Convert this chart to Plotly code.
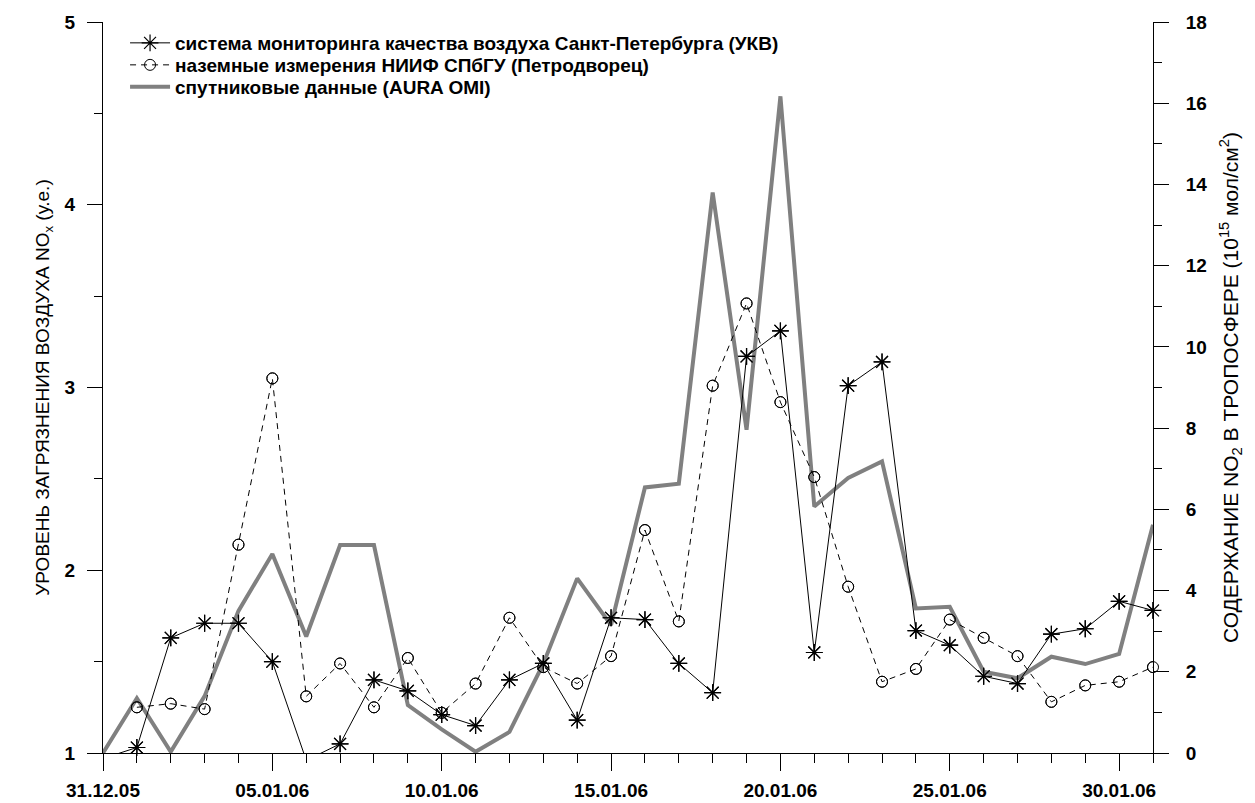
import plotly.graph_objects as go

dates = ["2005-12-31", "2006-01-01", "2006-01-02", "2006-01-03", "2006-01-04", "2006-01-05",
         "2006-01-06", "2006-01-07", "2006-01-08", "2006-01-09", "2006-01-10", "2006-01-11",
         "2006-01-12", "2006-01-13", "2006-01-14", "2006-01-15", "2006-01-16", "2006-01-17",
         "2006-01-18", "2006-01-19", "2006-01-20", "2006-01-21", "2006-01-22", "2006-01-23",
         "2006-01-24", "2006-01-25", "2006-01-26", "2006-01-27", "2006-01-28", "2006-01-29",
         "2006-01-30", "2006-01-31"]

ukv = [0.97, 1.03, 1.63, 1.71, 1.71, 1.50, 0.96, 1.05, 1.40, 1.34, 1.21, 1.15, 1.40, 1.49,
       1.18, 1.74, 1.73, 1.49, 1.33, 3.17, 3.31, 1.55, 3.01, 3.14, 1.67, 1.59, 1.42, 1.38,
       1.65, 1.68, 1.83, 1.78]

niif = [None, 1.25, 1.27, 1.24, 2.14, 3.05, 1.31, 1.49, 1.25, 1.52, 1.22, 1.38, 1.74, 1.47,
        1.38, 1.53, 2.22, 1.72, 3.01, 3.46, 2.92, 2.51, 1.91, 1.39, 1.46, 1.73, 1.63, 1.53,
        1.28, 1.37, 1.39, 1.47]

omi = [0.0, 1.35, 0.03, 1.40, 3.50, 4.90, 2.87, 5.12, 5.12, 1.18, 0.58, 0.03, 0.52, 2.20,
       4.30, 3.15, 6.54, 6.63, 13.80, 7.96, 16.17, 6.07, 6.77, 7.18, 3.56, 3.60, 2.00, 1.84,
       2.37, 2.19, 2.44, 5.62]

name_ukv = "<b>система мониторинга качества воздуха Санкт-Петербурга (УКВ)</b>"
name_niif = "<b>наземные измерения НИИФ СПбГУ (Петродворец)</b>"
name_omi = "<b>спутниковые данные (AURA OMI)</b>"

left_title = "УРОВЕНЬ ЗАГРЯЗНЕНИЯ ВОЗДУХА NO<sub>x</sub> (у.е.)"
right_title = "СОДЕРЖАНИЕ NO<sub>2</sub> В ТРОПОСФЕРЕ (10<sup>15</sup> мол/см<sup>2</sup>)"

FONT = "Liberation Sans, Arial, sans-serif"

fig = go.Figure()

# satellite (right axis, primary y)
fig.add_trace(go.Scatter(
    x=dates, y=omi, name=name_omi, mode="lines", yaxis="y", legend="legend3",
    line=dict(color="#808080", width=4)))

# UKV stars (left axis)
fig.add_trace(go.Scatter(
    x=dates, y=ukv, name=name_ukv, mode="lines+markers", yaxis="y2", legend="legend",
    line=dict(color="black", width=1),
    marker=dict(symbol="asterisk-open", size=14, color="black", line=dict(width=1.2, color="black"))))

# NIIF circles (left axis)
fig.add_trace(go.Scatter(
    x=dates, y=niif, name=name_niif, mode="lines+markers", yaxis="y2", legend="legend2",
    line=dict(color="black", width=1, dash="6px,5px"),
    marker=dict(symbol="circle-open", size=11, color="black", line=dict(width=1, color="black"))))

# unclipped markers for in-range points (so edge markers show fully)
for vals, sym, sz in ((ukv, "asterisk-open", 14), (niif, "circle-open", 11)):
    xs = [d for d, v in zip(dates, vals) if v is not None and v >= 1]
    ys = [v for v in vals if v is not None and v >= 1]
    fig.add_trace(go.Scatter(
        x=xs, y=ys, mode="markers", yaxis="y2", showlegend=False, cliponaxis=False,
        hoverinfo="skip",
        marker=dict(symbol=sym, size=sz, color="black",
                    line=dict(width=1.2 if sym.startswith("ast") else 1, color="black"))))

tickfont = dict(family=FONT, size=19, color="black", weight="bold")
legfont = dict(family=FONT, size=19, color="black")


def leg(ypix):
    return dict(x=0.021, y=(753 - ypix) / 731, xanchor="left", yanchor="middle",
                bgcolor="rgba(0,0,0,0)", font=legfont, itemwidth=40)


fig.update_layout(
    width=1255, height=803,
    margin=dict(l=103, r=102, t=22, b=50, autoexpand=False),
    paper_bgcolor="white", plot_bgcolor="white",
    font=dict(family=FONT, size=16, color="black"),
    showlegend=True,
    legend=leg(43),
    legend2=leg(65),
    legend3=leg(87),
    xaxis=dict(
        type="date", range=["2005-12-31", "2006-01-31"], automargin=False,
        tick0="2005-12-31", dtick=5 * 86400000, tickformat="%d.%m.%y",
        ticks="outside", ticklen=17, tickwidth=1, tickcolor="black",
        showline=True, linecolor="black", linewidth=1,
        showgrid=False, zeroline=False, tickfont=tickfont,
        ticklabelstandoff=3,
        minor=dict(dtick=86400000, tick0="2005-12-31", ticks="outside", ticklen=9,
                   tickwidth=1, tickcolor="black", showgrid=False),
    ),
    yaxis=dict(
        side="right", range=[0, 18], dtick=2, tick0=0, automargin=False,
        ticks="outside", ticklen=15, tickwidth=1, tickcolor="black",
        showline=True, linecolor="black", linewidth=1,
        showgrid=False, zeroline=False, tickfont=tickfont,
        ticklabelstandoff=13,
        minor=dict(dtick=1, ticks="outside", ticklen=8, tickwidth=1, tickcolor="black", showgrid=False),
        title=dict(text=right_title, font=dict(family=FONT, size=21, color="black"), standoff=16),
    ),
    yaxis2=dict(
        side="left", overlaying="y", range=[1, 5], dtick=1, tick0=1, automargin=False,
        ticks="outside", ticklen=15, tickwidth=1, tickcolor="black",
        showline=True, linecolor="black", linewidth=1,
        showgrid=False, zeroline=False, tickfont=tickfont,
        ticklabelstandoff=8,
        minor=dict(dtick=0.5, ticks="outside", ticklen=8, tickwidth=1, tickcolor="black", showgrid=False),
        title=dict(text=left_title, font=dict(family=FONT, size=19, color="black"), standoff=9),
    ),
)

fig.write_html("out.html")
